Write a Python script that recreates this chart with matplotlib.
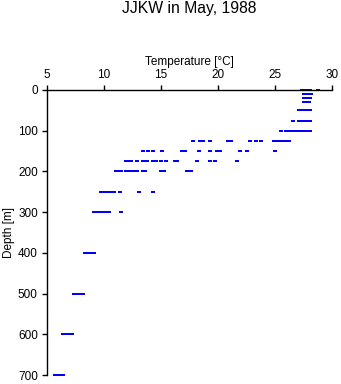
import matplotlib
matplotlib.use('Agg')
import matplotlib.pyplot as plt

# depth levels [m] and temperatures [deg C] read at each level
depths = [0, 10, 20, 30, 50, 75, 100, 125, 150, 175, 200, 250, 300, 400, 500, 600, 700]
temps = [
    [27.4, 27.5, 27.7, 27.8, 28.0, 28.1, 28.75],
    [27.5, 27.7, 27.9, 28.1, 28.2],
    [27.5, 27.7, 27.9, 28.1],
    [27.5, 27.7, 27.9, 28.0],
    [27.1, 27.3, 27.5, 27.7, 27.9, 28.05],
    [26.55, 27.1, 27.3, 27.5, 27.7, 27.9, 28.05],
    [25.5, 25.95, 26.3, 26.5, 26.7, 26.9, 27.1, 27.3, 27.5, 27.7, 27.85, 28.1],
    [17.8, 18.4, 18.7, 19.3, 20.9, 21.1, 22.8, 23.3, 23.8, 24.9, 25.3, 25.5, 25.7, 26.0, 26.2],
    [13.4, 13.9, 14.3, 15.1, 16.8, 17.1, 18.3, 19.3, 19.9, 20.2, 21.9, 22.5, 25.0],
    [11.9, 12.2, 12.4, 12.9, 13.4, 13.8, 14.3, 14.6, 15.0, 15.4, 16.2, 16.4, 18.2, 19.3, 19.7, 21.7],
    [11.05, 11.3, 11.5, 11.9, 12.2, 12.5, 12.9, 13.4, 13.6, 15.0, 15.3, 17.3, 17.6],
    [9.7, 10.0, 10.2, 10.35, 10.5, 10.7, 10.9, 11.4, 13.1, 14.3],
    [9.1, 9.3, 9.5, 9.7, 9.9, 10.1, 10.3, 10.4, 11.5],
    [8.35, 8.55, 8.75, 8.95, 9.1],
    [7.4, 7.6, 7.8, 8.0, 8.15],
    [6.4, 6.6, 6.8, 7.0, 7.2],
    [5.7, 5.9, 6.1, 6.3, 6.4],
]
xticks = [5, 10, 15, 20, 25, 30]
yticks = [0, 100, 200, 300, 400, 500, 600, 700]

xs = [t for row in temps for t in row]
ys = [d for d, row in zip(depths, temps) for _ in row]

plt.rcParams['font.family'] = ['Liberation Sans', 'DejaVu Sans']

fig = plt.figure(figsize=(3.41, 3.84), dpi=100, facecolor='white')
ax = fig.add_axes([47/341, 9/384, 285/341, 285/384])

# flat little box marker, wider than tall
box = [(-1, -0.5), (1, -0.5), (1, 0.5), (-1, 0.5), (-1, -0.5)]
ax.plot(xs, ys, linestyle='none', marker=box, ms=3.4, color='#0000ff',
        markeredgewidth=0, antialiased=False, clip_on=False)

ax.set_xlim(5, 30)
ax.set_ylim(700, 0)
ax.set_xticks(xticks)
ax.set_yticks(yticks)
ax.xaxis.tick_top()
ax.xaxis.set_label_position('top')
ax.spines['right'].set_visible(False)
ax.spines['bottom'].set_visible(False)
for s in ('top', 'left'):
    ax.spines[s].set_linewidth(1.0)
ax.tick_params(axis='both', direction='out', length=3.6, width=1.0,
               labelsize=8.5, pad=3)
ax.set_xlabel('Temperature [°C]', fontsize=8.5, labelpad=3)
ax.set_ylabel('Depth [m]', fontsize=8.5, labelpad=2)
fig.text(189.5/341, 1 - 9/384, 'JJKW in May, 1988', fontsize=11.3,
         ha='center', va='center')

fig.savefig('out.png', dpi=100, facecolor='white')
